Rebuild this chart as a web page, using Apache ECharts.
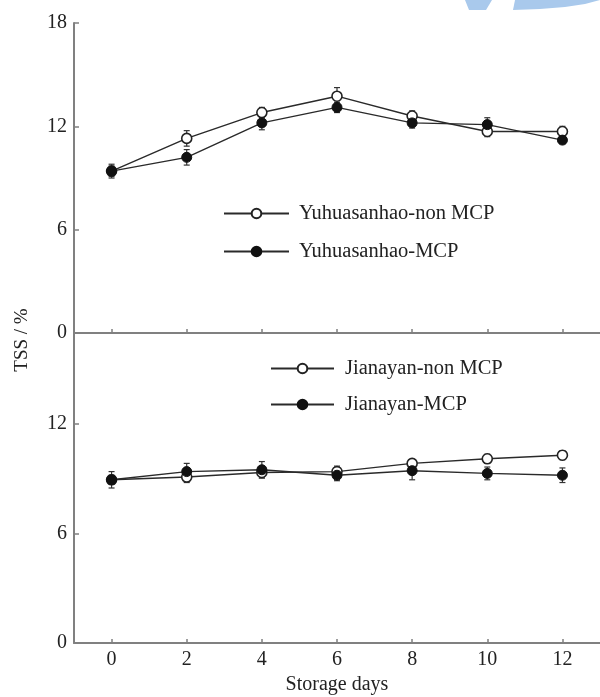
<!DOCTYPE html>
<html>
<head>
<meta charset="utf-8">
<script src="https://cdn.jsdelivr.net/npm/echarts@6/dist/echarts.min.js"></script>
<style>
html,body{margin:0;padding:0;background:#fff;}
#chart{width:600px;height:697px;}
</style>
</head>
<body>
<div id="chart"></div>
<script>
// ---- data ----
var days = [0, 2, 4, 6, 8, 10, 12];
var xTicks = [0, 2, 4, 6, 8, 10, 12];
var topYTicks = [0, 6, 12, 18];
var bottomYTicks = [0, 6, 12];

var yuhuaNon = [9.4, 11.3, 12.8, 13.75, 12.6, 11.7, 11.7];
var yuhuaNonErr = [0.3, 0.45, 0.3, 0.5, 0.3, 0.3, 0.3];
var yuhuaMCP = [9.4, 10.2, 12.2, 13.1, 12.2, 12.1, 11.2];
var yuhuaMCPErr = [0.4, 0.45, 0.4, 0.3, 0.3, 0.4, 0.2];

var jianNon = [8.95, 9.1, 9.35, 9.4, 9.85, 10.1, 10.3];
var jianNonErr = [0.25, 0.3, 0.3, 0.3, 0.2, 0.25, 0.25];
var jianMCP = [8.95, 9.4, 9.5, 9.2, 9.45, 9.3, 9.2];
var jianMCPErr = [0.45, 0.45, 0.45, 0.3, 0.5, 0.35, 0.4];

var names = ['Yuhuasanhao-non MCP', 'Yuhuasanhao-MCP', 'Jianayan-non MCP', 'Jianayan-MCP'];

// ---- helpers ----
var FONT = 'Liberation Serif';
var AX = '#808080';
function pairs(vals) { return days.map(function (d, i) { return [d, vals[i]]; }); }
function errData(vals, errs) { return days.map(function (d, i) { return [d, vals[i] - errs[i], vals[i] + errs[i]]; }); }

function errRender(params, api) {
  var x = api.value(0);
  var lo = api.coord([x, api.value(1)]);
  var hi = api.coord([x, api.value(2)]);
  var w = 3;
  var st = { stroke: '#333', lineWidth: 1.2 };
  return {
    type: 'group',
    children: [
      { type: 'line', shape: { x1: lo[0], y1: lo[1], x2: hi[0], y2: hi[1] }, style: st },
      { type: 'line', shape: { x1: hi[0] - w, y1: hi[1], x2: hi[0] + w, y2: hi[1] }, style: st },
      { type: 'line', shape: { x1: lo[0] - w, y1: lo[1], x2: lo[0] + w, y2: lo[1] }, style: st }
    ]
  };
}

function lineSeries(name, vals, idx, open) {
  return {
    name: name, type: 'line', xAxisIndex: idx, yAxisIndex: idx,
    data: pairs(vals), symbol: 'circle', symbolSize: 10, z: 3,
    lineStyle: { color: '#2a2a2a', width: 1.4 },
    itemStyle: open ? { color: '#fff', borderColor: '#222', borderWidth: 1.6 } : { color: '#111', borderColor: '#111', borderWidth: 1 },
    emphasis: { disabled: true }, animation: false
  };
}
function errSeries(vals, errs, idx) {
  return {
    type: 'custom', xAxisIndex: idx, yAxisIndex: idx, renderItem: errRender,
    data: errData(vals, errs), z: 2, animation: false, silent: true
  };
}

function xAxisCfg(idx, showLabel) {
  return {
    type: 'value', gridIndex: idx, min: -1, max: 13,
    splitLine: { show: false },
    axisLine: { show: true, onZero: false, lineStyle: { color: AX, width: 2 } },
    axisTick: { show: true, inside: true, length: 4, customValues: xTicks, lineStyle: { color: AX, width: 1.5 } },
    axisLabel: { show: showLabel, customValues: xTicks, margin: 7, color: '#222', fontFamily: FONT, fontSize: 20 },
    name: showLabel ? 'Storage days' : '', nameLocation: 'middle', nameGap: 32,
    nameTextStyle: { color: '#222', fontFamily: FONT, fontSize: 20 }
  };
}
function yAxisCfg(idx, max, ticks) {
  return {
    type: 'value', gridIndex: idx, min: 0, max: max,
    splitLine: { show: false },
    axisLine: { show: true, onZero: false, lineStyle: { color: AX, width: 2 } },
    axisTick: { show: true, inside: true, length: 5, customValues: ticks, lineStyle: { color: AX, width: 1.5 } },
    axisLabel: { show: true, customValues: ticks, margin: 7, color: '#222', fontFamily: FONT, fontSize: 20 }
  };
}

var chart = echarts.init(document.getElementById('chart'), null, { renderer: 'canvas' });
chart.setOption({
  backgroundColor: '#fff',
  animation: false,
  grid: [
    { left: 74, top: 23, width: 526, height: 310, outerBoundsMode: 'none', containLabel: false },
    { left: 74, top: 333, width: 526, height: 310, outerBoundsMode: 'none', containLabel: false }
  ],
  xAxis: [xAxisCfg(0, false), xAxisCfg(1, true)],
  yAxis: [yAxisCfg(0, 18, topYTicks), yAxisCfg(1, 17, bottomYTicks)],
  legend: [
    {
      data: [names[0], names[1]], orient: 'vertical', left: 223, top: 203, padding: 0,
      itemWidth: 65, itemHeight: 12, itemGap: 17, selectedMode: false,
      textStyle: { color: '#222', fontFamily: FONT, fontSize: 20.5, padding: [0, 0, 0, 5] }
    },
    {
      data: [names[2], names[3]], orient: 'vertical', left: 270, top: 358, padding: 0,
      itemWidth: 63, itemHeight: 12, itemGap: 15, selectedMode: false,
      textStyle: { color: '#222', fontFamily: FONT, fontSize: 20.5, padding: [0, 0, 0, 6] }
    }
  ],
  graphic: [
    {
      type: 'text', x: 22, y: 340, rotation: Math.PI / 2,
      style: { text: 'TSS / %', fontFamily: FONT, fontSize: 19, fill: '#222', align: 'center', verticalAlign: 'middle' }
    },
    {
      type: 'polygon', silent: true,
      shape: { points: [[465, 0], [492, 0], [486, 10], [469, 10]] },
      style: { fill: '#a9c9ec' }
    },
    {
      type: 'polygon', silent: true,
      shape: { points: [[513, 10], [540, 9], [565, 7], [585, 4], [600, 0], [515, 0]] },
      style: { fill: '#a9c9ec' }
    }
  ],
  series: [
    errSeries(yuhuaNon, yuhuaNonErr, 0),
    errSeries(yuhuaMCP, yuhuaMCPErr, 0),
    errSeries(jianNon, jianNonErr, 1),
    errSeries(jianMCP, jianMCPErr, 1),
    lineSeries(names[0], yuhuaNon, 0, true),
    lineSeries(names[1], yuhuaMCP, 0, false),
    lineSeries(names[2], jianNon, 1, true),
    lineSeries(names[3], jianMCP, 1, false)
  ]
});
</script>
</body>
</html>
